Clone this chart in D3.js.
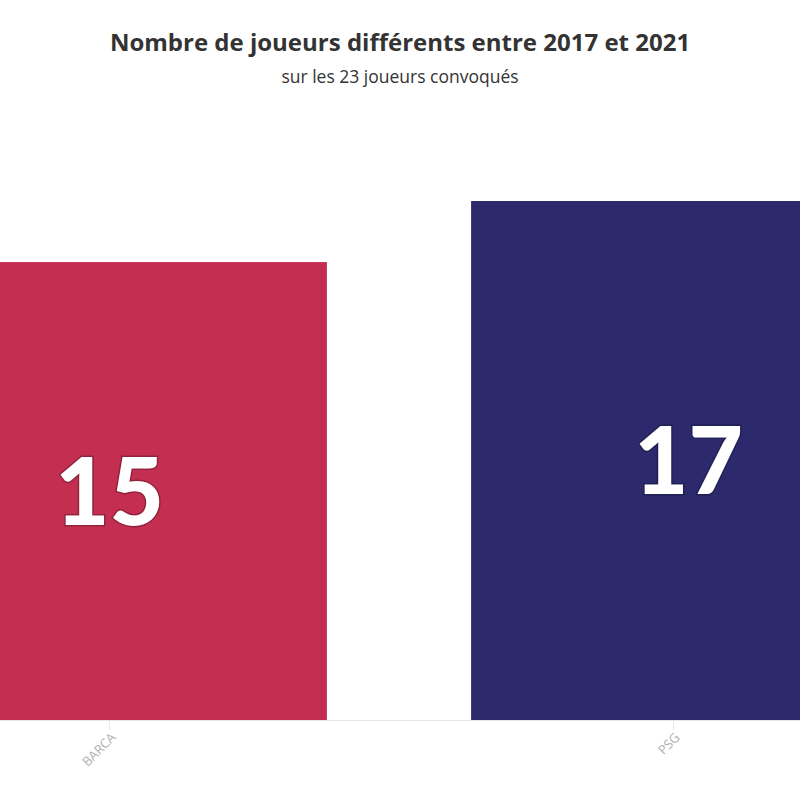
<!DOCTYPE html>
<html>
<head>
<meta charset="utf-8">
<script src="https://cdn.jsdelivr.net/npm/d3@7"></script>
<style>
  body { margin: 0; background: #fff; }
  svg { display: block; font-family: "Open Sans", "Lato", sans-serif; }
</style>
</head>
<body>
<svg id="chart" width="800" height="800"></svg>
<script>
const clubs = ["BARCA", "PSG"];
const players = [15, 17];
const colors = ["#c42e51", "#2c2a6d"];

const W = 800, H = 800;
const base = 720;

const svg = d3.select("#chart");

// x: band scale, the plot is wider than the view (bars cut at both sides)
const x = d3.scaleBand().domain(clubs).range([-108, 906]).paddingInner(0.249).paddingOuter(0);
const y = d3.scaleLinear().domain([0, 17]).range([base, 201]);

// titles
svg.append("text").attr("x", W / 2).attr("y", 51).attr("text-anchor", "middle")
  .attr("font-size", 24).attr("font-weight", 700).attr("fill", "#333")
  .text("Nombre de joueurs différents entre 2017 et 2021");
svg.append("text").attr("x", W / 2).attr("y", 83).attr("text-anchor", "middle")
  .attr("font-size", 17.5).attr("fill", "#333")
  .text("sur les 23 joueurs convoqués");

// baseline
svg.append("line").attr("x1", 0).attr("x2", W).attr("y1", base + 0.5).attr("y2", base + 0.5)
  .attr("stroke", "#e6e6e6").attr("stroke-width", 1);

// bars
svg.append("g").selectAll("rect")
  .data(clubs).join("rect")
  .attr("x", d => x(d))
  .attr("width", x.bandwidth())
  .attr("y", (d, i) => y(players[i]))
  .attr("height", (d, i) => base - y(players[i]))
  .attr("fill", (d, i) => colors[i]);

// value labels
svg.append("g").selectAll("text")
  .data(clubs).join("text")
  .attr("x", d => x(d) + x.bandwidth() / 2)
  .attr("y", (d, i) => (y(players[i]) + base) / 2)
  .attr("dy", "0.36em")
  .attr("text-anchor", "middle")
  .attr("font-family", "Lato, sans-serif")
  .attr("font-size", 94)
  .attr("font-weight", 900)
  .attr("fill", "#fff")
  .attr("stroke", (d, i) => d3.color(colors[i]).darker(0.8))
  .attr("stroke-width", 3)
  .attr("paint-order", "stroke")
  .text((d, i) => players[i]);

// x axis
const ax = svg.append("g").attr("transform", `translate(0,${base + 1})`)
  .call(d3.axisBottom(x).tickSize(9).tickSizeOuter(0));
ax.select(".domain").remove();
ax.selectAll(".tick").attr("transform", d => `translate(${x(d) + x.bandwidth() / 2 - (d === "PSG" ? 15 : 0)},0)`);
ax.selectAll(".tick line").attr("stroke", "#e6e6e6");
ax.selectAll(".tick text")
  .attr("fill", "#b0b0b0").attr("font-size", 13)
  .attr("font-family", "Open Sans, sans-serif")
  .attr("text-anchor", "end")
  .attr("transform", "translate(4,14) rotate(-45)")
  .attr("dy", "0.35em").attr("y", 0).attr("x", 0);
</script>
</body>
</html>
